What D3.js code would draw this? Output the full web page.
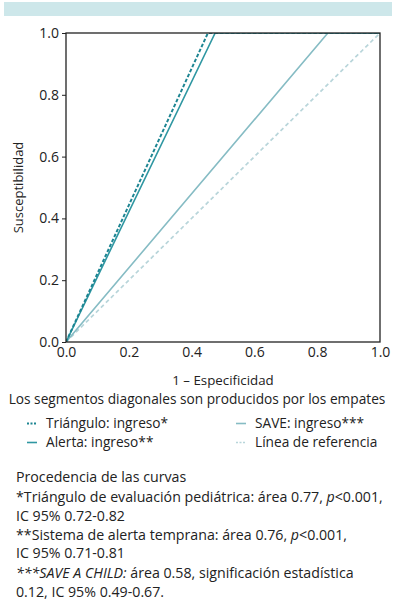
<!DOCTYPE html>
<html>
<head>
<meta charset="utf-8">
<script src="https://cdn.jsdelivr.net/npm/d3@7"></script>
<style>
  body { margin: 0; background: #fff; }
  svg text { font-family: "Open Sans", Lato, sans-serif; fill: #222; }
</style>
</head>
<body>
<div id="container"></div>
<script>
// ROC points: (1 - specificity, sensitivity)
const seriesNames = ["Triángulo: ingreso*", "Alerta: ingreso**", "SAVE: ingreso***", "Línea de referencia"];
const trianguloPts = [[0, 0], [0.452, 1], [1, 1]];
const alertaPts = [[0, 0], [0.475, 1], [1, 1]];
const savePts = [[0, 0], [0.834, 1], [1, 1]];
const referenciaPts = [[0, 0], [1, 1]];
const tickValues = [0, 0.2, 0.4, 0.6, 0.8, 1.0];
// each note line is a list of [text, italic] pieces
const notes = [
  [["Procedencia de las curvas", false]],
  [["*Triángulo de evaluación pediátrica: área 0.77, ", false], ["p", true], ["<0.001,", false]],
  [["IC 95% 0.72-0.82", false]],
  [["**Sistema de alerta temprana: área 0.76, ", false], ["p", true], ["<0.001,", false]],
  [["IC 95% 0.71-0.81", false]],
  [["***SAVE A CHILD:", true], [" área 0.58, significación estadística", false]],
  [["0.12, IC 95% 0.49-0.67.", false]]
];

const W = 394, H = 615;
const margin = {top: 33, right: 14, bottom: 273, left: 66},
  width = W - margin.left - margin.right,
  height = H - margin.top - margin.bottom;

const svg = d3.select("#container").append("svg")
  .attr("width", W).attr("height", H);

// header band
svg.append("rect").attr("x", 4).attr("y", 2).attr("width", 388).attr("height", 14)
  .attr("fill", "#cde7ea");

const g = svg.append("g").attr("transform", `translate(${margin.left},${margin.top})`);

const x = d3.scaleLinear().domain([0, 1]).range([0, width]);
const y = d3.scaleLinear().domain([0, 1]).range([height, 0]);

const styles = [
  {color: "#1d8592", dash: "3.5,2", width: 2},
  {color: "#2f97a2", dash: null, width: 1.6},
  {color: "#86bcc4", dash: null, width: 1.6},
  {color: "#b8d5da", dash: "4,3", width: 1.7}
];
const allSeries = [trianguloPts, alertaPts, savePts, referenciaPts];

g.append("clipPath").attr("id", "clip").append("rect")
  .attr("width", width).attr("height", height);

const line = d3.line().x(d => x(d[0])).y(d => y(d[1]));

// draw in back-to-front order
[3, 2, 1, 0].forEach(i => {
  g.append("path")
    .attr("clip-path", "url(#clip)")
    .attr("d", line(allSeries[i]))
    .attr("fill", "none")
    .attr("stroke", styles[i].color)
    .attr("stroke-width", styles[i].width)
    .attr("stroke-dasharray", styles[i].dash);
});

// frame
g.append("rect").attr("width", width).attr("height", height)
  .attr("fill", "none").attr("stroke", "#222").attr("stroke-width", 1.3);

const fmt = d3.format(".1f");
const yAxis = g.append("g").call(d3.axisLeft(y).tickValues(tickValues).tickFormat(fmt).tickSize(4).tickPadding(3));
const xAxis = g.append("g").attr("transform", `translate(0,${height})`)
  .call(d3.axisBottom(x).tickValues(tickValues).tickFormat(fmt).tickSize(0).tickPadding(5));
[yAxis, xAxis].forEach(a => {
  a.select(".domain").remove();
  a.selectAll("text").attr("font-size", 14).attr("font-family", "'Open Sans', sans-serif").attr("fill", "#222");
  a.selectAll("line").attr("stroke", "#222");
});

// axis titles
svg.append("text").attr("transform", `translate(23,${margin.top + height / 2}) rotate(-90)`)
  .attr("text-anchor", "middle").attr("font-size", 13).text("Susceptibilidad");
svg.append("text").attr("x", margin.left + width / 2).attr("y", 385)
  .attr("text-anchor", "middle").attr("font-size", 13.3).text("1 – Especificidad");
svg.append("text").attr("x", 197).attr("y", 404)
  .attr("text-anchor", "middle").attr("font-size", 13.7).text("Los segmentos diagonales son producidos por los empates");

// legend
const legendPos = [[27, 428], [27, 447], [236, 428], [236, 447]];
seriesNames.forEach((name, i) => {
  const [lx, ly] = legendPos[i];
  const lg = svg.append("g").attr("transform", `translate(${lx},${ly})`);
  lg.append("line").attr("x1", 0).attr("x2", 10).attr("y1", -4.5).attr("y2", -4.5)
    .attr("stroke", styles[i].color).attr("stroke-width", styles[i].width)
    .attr("stroke-dasharray", styles[i].dash ? "2,1.5" : null);
  lg.append("text").attr("x", 19).attr("y", 0).attr("font-size", 13.7).text(name);
});

// notes below the chart
const noteY = [482, 502, 521, 540, 558, 578, 597];
notes.forEach((pieces, i) => {
  const t = svg.append("text").attr("x", 16).attr("y", noteY[i]).attr("font-size", 14.2);
  pieces.forEach(([s, it]) => {
    t.append("tspan").attr("font-style", it ? "italic" : null).text(s);
  });
});
</script>
</body>
</html>
